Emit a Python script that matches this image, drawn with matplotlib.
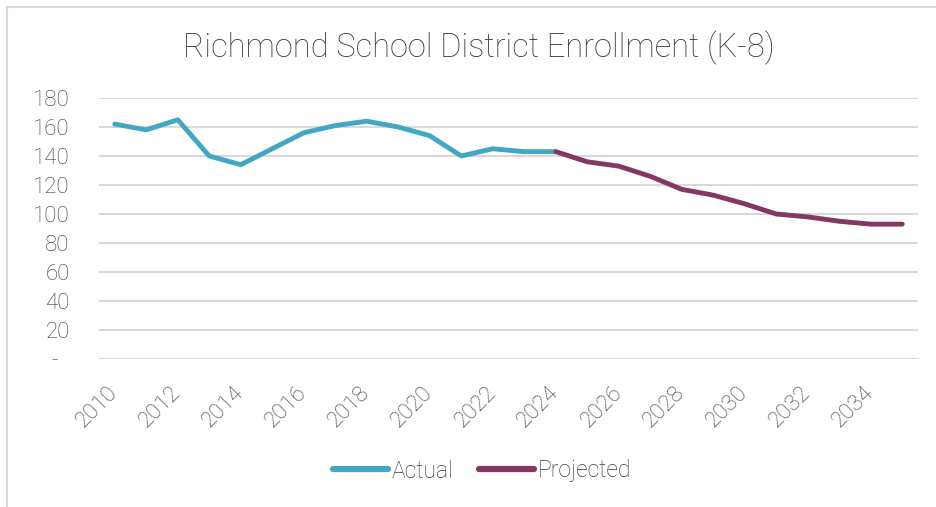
import matplotlib
matplotlib.use("Agg")
import matplotlib.pyplot as plt
from matplotlib.lines import Line2D
from matplotlib.ticker import FuncFormatter

plt.rcParams['font.family'] = ['Roboto', 'DejaVu Sans']

title = "Richmond School District Enrollment (K-8)"
actual_years = list(range(2010, 2025))
actual_values = [162, 158, 165, 140, 134, 145, 156, 161, 164, 160, 154, 140, 145, 143, 143]
projected_years = list(range(2024, 2036))
projected_values = [143, 136, 133, 126, 117, 113, 107, 100, 98, 95, 93, 93]
x_tick_years = list(range(2010, 2035, 2))
y_ticks = list(range(0, 181, 20))

TEXT = '#3A3A3A'
GRID = '#D9D9D9'
C_ACT = '#41A7C3'
C_PROJ = '#843763'
W = 'light'

fig = plt.figure(figsize=(9.37, 5.07), dpi=100)
ax = fig.add_axes([99/937, 1-359/507, (918-99)/937, (359-98)/507])

ax.plot(actual_years, actual_values, color=C_ACT, lw=3.5, solid_capstyle='round',
        solid_joinstyle='round', label='Actual', zorder=3)
ax.plot(projected_years, projected_values, color=C_PROJ, lw=3.5, solid_capstyle='round',
        solid_joinstyle='round', label='Projected', zorder=3)

ax.set_xlim(2009.5, 2035.5)
ax.set_ylim(0, 180)
ax.set_yticks(y_ticks)
ax.yaxis.set_major_formatter(FuncFormatter(lambda v, p: '-  ' if v == 0 else f'{int(v)}'))
ax.set_xticks(x_tick_years)
ax.set_xticklabels([str(y) for y in x_tick_years], rotation=45, ha='right', va='center',
                   rotation_mode='anchor')
ax.tick_params(axis='y', length=0, pad=21, labelsize=16, labelcolor=TEXT)
ax.tick_params(axis='x', length=0, pad=22, labelsize=16, labelcolor=TEXT)
for lab in ax.get_xticklabels() + ax.get_yticklabels():
    lab.set_fontweight(W)

ax.grid(axis='y', color=GRID, lw=1.5)
ax.set_axisbelow(True)
for s in ax.spines.values():
    s.set_visible(False)

fig.text(479/937, 1-48/507, title, ha='center', va='center', fontsize=23.5,
         color=TEXT, fontweight=W)

leg = fig.legend(loc='center', bbox_to_anchor=(482/937, 1-471/507), ncol=2, frameon=False,
                 fontsize=16.5, handlelength=2.4, handletextpad=0.15, columnspacing=1.15,
                 labelcolor=TEXT)
for t in leg.get_texts():
    t.set_fontweight(W)
for h in leg.legend_handles:
    h.set_linewidth(4.5)

# chart frame (top and left edges)
fig.add_artist(Line2D([7.5/937, 7.5/937], [0, 1-6.5/507], transform=fig.transFigure,
                      color=GRID, lw=1.5))
fig.add_artist(Line2D([7.5/937, 1], [1-6.5/507, 1-6.5/507], transform=fig.transFigure,
                      color=GRID, lw=1.5))

fig.savefig('out.png', dpi=100, facecolor='white')
